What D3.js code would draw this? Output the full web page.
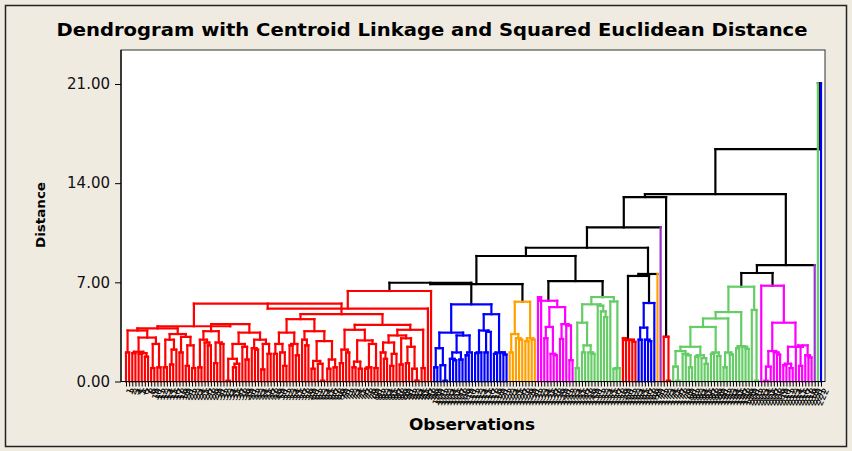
<!DOCTYPE html>
<html>
<head>
<meta charset="utf-8">
<script src="https://cdn.jsdelivr.net/npm/d3@7"></script>
<style>
  body { margin: 0; background: #EFEBE1; }
  text { font-family: "DejaVu Sans", Verdana, sans-serif; }
</style>
</head>
<body>
<div id="chart"></div>
<script>
// each cluster: [mergeHeight, left, right], a leaf (observation) is 0
const redBig = [6.39,
  [5.15,
    [5.5,
      [3.9,
        [3.75,
          [3.6, [2.05,0,0],
                [3.1, [2.1, [2.0,0,0], [2.0,[1.95,0,0],[1.75,0,0]]],
                      [2.65, [0.95,0,0], [1.0,0,0]]]],
          [3.35, [2.95, [1.0,0,0], [2.25,[1.2,0,0],0]],
                 [3.15, [2.05,0,0], [2.55,[1.1,0,0],[0.95,0,0]]]]],
        [4.05,
          [3.55, [2.95,[1.0,0,0],[2.75,0,[2.55,0,0]]], [2.75,[1.3,0,0],[2.65,0,0]]],
          [3.45, [2.65, [1.6,[0.05,0,0],[1.25,[1.0,0,0],0]], [2.45,0,[1.55,0,0]]],
                 [2.95, [2.35,0,[2.25,0,0]], [2.65,[0.85,0,0],[1.95,0,0]]]]]],
      [4.75,
        [4.4,
          [3.45, [2.65,[1.95,0,0],[2.05,0,[1.1,0,0]]], [2.65,[2.55,0,0],[1.85,0,0]]],
          [3.55, [2.95,0,[2.55,0,0]],
                 [2.85, [1.45,[0.9,0,0],[1.25,0,[0.05,0,0]]], [1.55,[0.9,0,0],[1.0,0,0]]]]],
        [4.0,
          [3.65, [2.25,[1.3,0,0],[2.05,0,0]],
                 [2.9, [1.4,[1.0,0,0],[0.9,0,0]], [2.65,[1.0,[0.9,0,0],0],[0.95,0,0]]]],
          [3.65, [3.25, [2.75,[2.05,0,[1.6,0,0]],[1.95,[1.1,0,0],0]],
                        [3.05,[1.2,0,0],[2.45,[1.3,0,0],[0.9,0,[0.06,0,0]]]]],
                 [0.95,0,0]]]]],
    0],
  0];
const blue1 = [5.45,
  [3.45, [2.35,[1.0,0,0],[1.15,0,[0.05,0,0]]],
         [3.25,[2.05,[1.6,0,[1.5,0,0]],[1.55,0,0]],[2.05,[1.85,0,0],0]]],
  [4.75, [3.6,[2.05,[2.0,0,0],0],[3.5,[2.05,0,0],0]],
         [2.05,[1.95,0,0],[2.05,0,[1.9,0,0]]]]];
const orange1 = [5.63, [3.35,[2.05,0,0],[3.05,0,[2.95,0,0]]], [3.05,[2.85,0,0],[2.95,0,0]]];
const magenta1 = [5.7, [5.95,0,0],
  [5.25, [3.85,[3.05,0,0],[1.95,0,[1.85,0,0]]], [4.05,[3.0,0,0],[3.95,0,[1.5,0,0]]]]];
const green1 = [5.96,
  [5.45, [4.15,[0.95,0,0],[2.55,[2.05,0,0],[2.05,0,[1.95,0,0]]]], [5.35,0,[4.95,0,[4.55,0,0]]]],
  [5.65,0,[0.95,[0.9,0,0],0]]];
const red2 = [2.93, [3.05,0,0], [2.95,0,[2.8,0,0]]];
const blue2 = [5.54, [3.8,[2.95,0,0],[2.95,0,[2.85,0,0]]], 0];
const red3 = [3.16, 0, [0.05,0,0]];
const green2 = [6.69,
  [4.9,
    [4.45,
      [3.85,
        [2.45,
          [2.15, [1.05,0,[0.05,0,0]], [1.95,0,[1.85,0,[1.0,0,0]]]],
          [1.85, [1.75,0,0], [1.65,0,[1.25,0,0]]]],
        [2.05, [1.95,0,0], [1.8,0,0]]],
      [2.05, [1.0,0,0], [1.9,0,0]]],
    [2.5, [2.35,0,0], [2.45,0,[2.3,0,0]]]],
  [5.05, 0, [0.05,0,0]]];
const magenta2 = [6.76, 0,
  [4.15, [2.15,[1.05,[0.05,0,0],0],[2.05,0,[1.9,0,0]]],
         [2.45,[1.25,[1.15,0,0],[0.95,0,0]],[2.55,[2.45,0,[1.1,0,0]],[1.85,0,[1.7,0,0]]]]]];

const clusterTrees = {
  redBig, blue1, orange1, magenta1, green1, red2, blue2, red3, green2, magenta2,
  orangeLeaf: 0, purpleLeaf1: 0, purpleLeaf2: 0, greenLeaf: 0, blueLeaf: 0
};
const clusterColors = {
  redBig: "#FF0000", blue1: "#0000FF", orange1: "#FFA000", magenta1: "#FF00FF",
  green1: "#66CC66", red2: "#FF0000", blue2: "#0000FF", orangeLeaf: "#FFA000",
  purpleLeaf1: "#9933CC", red3: "#FF0000", green2: "#66CC66", magenta2: "#FF00FF",
  purpleLeaf2: "#9933CC", greenLeaf: "#66CC66", blueLeaf: "#0000FF"
};

// links between the final clusters (drawn black)
const topTree = [16.4,
  [13.23,
    [13.02,
      [10.88,
        [9.44,
          [8.86,
            [6.88, [6.97, "redBig", "blue1"], "orange1"],
            [7.09, "magenta1", "green1"]],
          [7.59, [7.45, "red2", "blue2"], "orangeLeaf"]],
        "purpleLeaf1"],
      "red3"],
    [8.22, [7.66, "green2", "magenta2"], "purpleLeaf2"]],
  [21.05, "greenLeaf", "blueLeaf"]];

const yTicks = [0, 7, 14, 21];

const width = 852, height = 451;
const plot = {left: 121, top: 50, right: 825, bottom: 381.5};

function build(n, color) {
  if (typeof n === "string") {
    const c = build(clusterTrees[n], clusterColors[n]);
    c.clusterTop = true;
    return c;
  }
  if (n === 0) return {h: 0, color: color};
  return {h: n[0], color: color, children: n.slice(1).map(c => build(c, color))};
}

const root = d3.hierarchy(build(topTree, "#000000"));
const leaves = root.leaves();
const leafLabels = leaves.map((d, i) => String(i + 1));

const x = d3.scalePoint()
  .domain(d3.range(leaves.length))
  .range([126, 821]);
const y = d3.scaleLinear()
  .domain([0, 21])
  .range([plot.bottom, 84]);

leaves.forEach((d, i) => { d.x = x(i); });
root.eachAfter(d => {
  if (d.children) d.x = (d.children[0].x + d.children[d.children.length - 1].x) / 2;
});

const svg = d3.select("#chart").append("svg")
  .attr("width", width)
  .attr("height", height);

svg.append("rect")
  .attr("x", 0).attr("y", 0).attr("width", width).attr("height", height)
  .attr("fill", "#EFEBE1");
svg.append("rect")
  .attr("x", 5.5).attr("y", 5.5).attr("width", 841).attr("height", 441)
  .attr("fill", "none").attr("stroke", "#222").attr("stroke-width", 1.5);

svg.append("rect")
  .attr("x", plot.left).attr("y", plot.top)
  .attr("width", plot.right - plot.left).attr("height", plot.bottom - plot.top)
  .attr("fill", "#fff").attr("stroke", "#333").attr("stroke-width", 1);

// title
svg.append("text")
  .attr("x", 432).attr("y", 36)
  .attr("text-anchor", "middle")
  .attr("textLength", 751).attr("lengthAdjust", "spacingAndGlyphs")
  .style("font-size", "17px").style("font-weight", "bold")
  .text("Dendrogram with Centroid Linkage and Squared Euclidean Distance");

// links
const segs = [];
root.each(d => {
  if (d.children) {
    segs.push({x1: d.children[0].x, x2: d.children[d.children.length - 1].x,
      y1: y(d.data.h), y2: y(d.data.h), c: d.data.color});
  }
  if (d.parent) {
    const legColor = (d.data.clusterTop && d.children) ? "#000000" : d.data.color;
    segs.push({x1: d.x, x2: d.x, y1: y(d.data.h), y2: y(d.parent.data.h), c: legColor});
  }
});
// black links first, coloured ones over them
segs.sort((a, b) => (b.c === "#000000") - (a.c === "#000000"));

svg.append("g")
  .selectAll("line")
  .data(segs)
  .join("line")
  .attr("x1", d => d.x1).attr("x2", d => d.x2)
  .attr("y1", d => d.y1).attr("y2", d => d.y2)
  .attr("stroke", d => d.c)
  .attr("stroke-width", 2.2)
  .attr("stroke-linecap", "square");

// axes
const yAxis = svg.append("g")
  .attr("transform", "translate(" + plot.left + ",0)")
  .call(d3.axisLeft(y).tickValues(yTicks).tickFormat(d3.format(".2f")).tickSize(6).tickPadding(5));
yAxis.select(".domain").remove();
yAxis.selectAll("text").style("font-size", "15px").attr("fill", "#111");
svg.append("line")
  .attr("x1", plot.left).attr("x2", plot.left)
  .attr("y1", plot.top).attr("y2", plot.bottom)
  .attr("stroke", "#000").attr("stroke-width", 1.2);

const xAxis = svg.append("g")
  .attr("transform", "translate(0," + plot.bottom + ")")
  .call(d3.axisBottom(x).tickSize(5).tickPadding(3).tickFormat(i => leafLabels[i]));
xAxis.select(".domain")
  .attr("d", "M" + plot.left + ",0H" + plot.right);
xAxis.selectAll("text")
  .style("font-size", "9.5px")
  .attr("fill", "#000")
  .attr("text-anchor", "end")
  .attr("dy", "0.3em")
  .attr("transform", "translate(-2,4) rotate(-65)");

svg.append("text")
  .attr("transform", "translate(45,215) rotate(-90)")
  .attr("text-anchor", "middle")
  .attr("textLength", 66).attr("lengthAdjust", "spacingAndGlyphs")
  .style("font-size", "13px").style("font-weight", "bold")
  .text("Distance");

svg.append("text")
  .attr("x", 472).attr("y", 430)
  .attr("text-anchor", "middle")
  .attr("textLength", 126).attr("lengthAdjust", "spacingAndGlyphs")
  .style("font-size", "15px").style("font-weight", "bold")
  .text("Observations");
</script>
</body>
</html>
